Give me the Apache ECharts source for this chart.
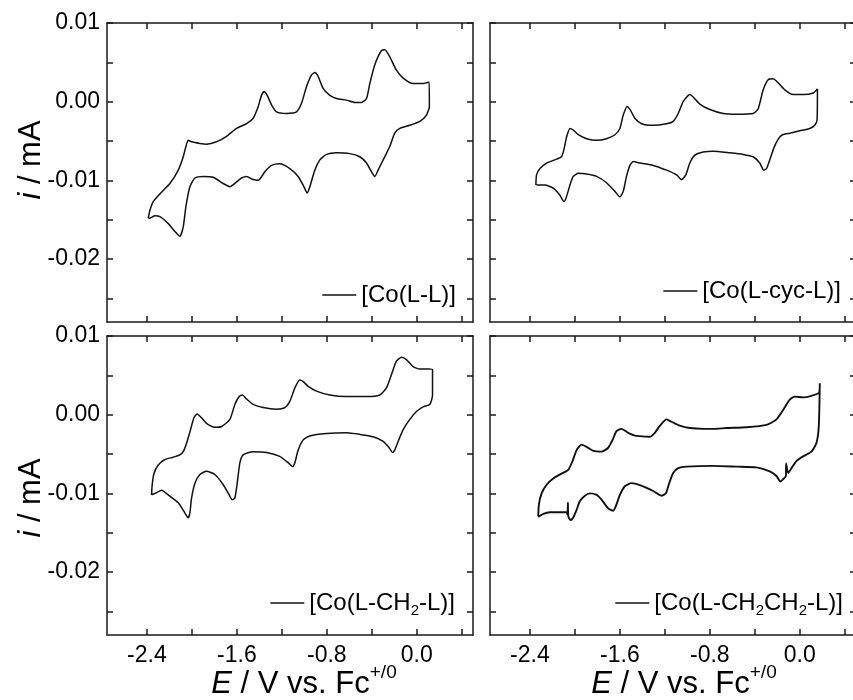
<!DOCTYPE html>
<html><head><meta charset="utf-8">
<script src="https://cdn.jsdelivr.net/npm/echarts@6/dist/echarts.min.js"></script>
<style>html,body{margin:0;padding:0;background:#fff}#c{width:853px;height:700px}</style>
</head><body><div id="c"></div>
<script>
const FONT = '"Liberation Sans", Arial, Helvetica, sans-serif';

// Series names
const names = ['[Co(L-L)]', '[Co(L-cyc-L)]', '[Co(L-CH2-L)]', '[Co(L-CH2CH2-L)]'];

// [Co(L-L)]  potential (V vs Fc+/0) and current (mA)
const E_LL = [-2.388,-2.373,-2.344,-2.284,-2.196,-2.121,-2.077,-2.053,-2.033,-2.003,-1.929,-1.870,-1.781,-1.692,-1.603,-1.514,-1.455,-1.410,-1.381,-1.357,-1.330,-1.292,-1.247,-1.159,-1.070,-1.025,-0.981,-0.936,-0.907,-0.877,-0.833,-0.773,-0.714,-0.625,-0.551,-0.492,-0.447,-0.418,-0.373,-0.314,-0.284,-0.240,-0.181,-0.121,-0.033,0.056,0.110,
  0.112,
  0.086,0.027,-0.062,-0.151,-0.196,-0.240,-0.299,-0.344,-0.373,-0.403,-0.447,-0.507,-0.596,-0.714,-0.803,-0.862,-0.907,-0.951,-0.975,-1.004,-1.055,-1.129,-1.218,-1.292,-1.351,-1.410,-1.455,-1.514,-1.559,-1.603,-1.662,-1.721,-1.810,-1.899,-1.973,-2.018,-2.053,-2.077,-2.107,-2.151,-2.210,-2.284,-2.329,-2.373,-2.388];
const I_LL = [-0.0148,-0.0138,-0.0127,-0.0117,-0.0104,-0.0087,-0.0070,-0.0057,-0.0049,-0.0051,-0.0053,-0.0054,-0.0051,-0.0044,-0.0034,-0.0028,-0.0021,-0.0006,0.0008,0.0013,0.0008,-0.0004,-0.0013,-0.0015,-0.0013,-0.0002,0.0019,0.0034,0.0037,0.0032,0.0017,0.0008,0.0004,0.0002,-0.0001,-0.0001,0.0004,0.0023,0.0047,0.0065,0.0066,0.0057,0.0040,0.0030,0.0023,0.0023,0.0025,
  -0.0006,
  -0.0017,-0.0025,-0.0030,-0.0034,-0.0040,-0.0057,-0.0074,-0.0087,-0.0095,-0.0089,-0.0078,-0.0070,-0.0066,-0.0065,-0.0067,-0.0074,-0.0087,-0.0108,-0.0116,-0.0108,-0.0095,-0.0085,-0.0079,-0.0081,-0.0089,-0.0100,-0.0099,-0.0095,-0.0097,-0.0102,-0.0108,-0.0104,-0.0096,-0.0095,-0.0097,-0.0108,-0.0133,-0.0159,-0.0171,-0.0165,-0.0155,-0.0146,-0.0145,-0.0148,-0.0148];

// [Co(L-cyc-L)]
const E_CYC = [-2.347,-2.341,-2.311,-2.252,-2.163,-2.119,-2.098,-2.074,-2.044,-2.015,-1.970,-1.896,-1.807,-1.719,-1.644,-1.600,-1.570,-1.535,-1.505,-1.467,-1.407,-1.304,-1.185,-1.126,-1.081,-1.037,-0.978,-0.948,-0.889,-0.800,-0.681,-0.563,-0.415,-0.370,-0.326,-0.281,-0.237,-0.193,-0.133,-0.059,0.030,0.119,0.157,
  0.154,
  0.133,0.089,0.000,-0.089,-0.154,-0.193,-0.231,-0.267,-0.296,-0.320,-0.356,-0.415,-0.504,-0.622,-0.770,-0.859,-0.933,-0.978,-1.013,-1.052,-1.096,-1.185,-1.304,-1.422,-1.481,-1.511,-1.541,-1.570,-1.600,-1.644,-1.719,-1.807,-1.896,-1.970,-2.015,-2.044,-2.080,-2.098,-2.133,-2.193,-2.267,-2.341];
const I_CYC = [-0.0106,-0.0093,-0.0085,-0.0078,-0.0073,-0.0070,-0.0061,-0.0045,-0.0034,-0.0036,-0.0042,-0.0047,-0.0049,-0.0047,-0.0042,-0.0034,-0.0017,-0.0006,-0.0011,-0.0021,-0.0028,-0.0030,-0.0028,-0.0025,-0.0015,0.0000,0.0009,0.0006,-0.0003,-0.0010,-0.0015,-0.0016,-0.0015,-0.0009,0.0015,0.0028,0.0029,0.0024,0.0015,0.0009,0.0009,0.0011,0.0016,
  -0.0023,
  -0.0030,-0.0034,-0.0037,-0.0040,-0.0042,-0.0048,-0.0059,-0.0074,-0.0085,-0.0087,-0.0078,-0.0070,-0.0067,-0.0065,-0.0063,-0.0064,-0.0068,-0.0078,-0.0093,-0.0099,-0.0093,-0.0087,-0.0081,-0.0078,-0.0076,-0.0081,-0.0095,-0.0114,-0.0121,-0.0114,-0.0103,-0.0095,-0.0092,-0.0091,-0.0095,-0.0106,-0.0123,-0.0127,-0.0119,-0.0110,-0.0106,-0.0106];

// [Co(L-CH2-L)]
const E_CH2 = [-2.359,-2.353,-2.338,-2.299,-2.240,-2.166,-2.107,-2.077,-2.047,-2.012,-1.982,-1.953,-1.914,-1.870,-1.796,-1.736,-1.662,-1.618,-1.579,-1.550,-1.514,-1.455,-1.366,-1.247,-1.173,-1.129,-1.084,-1.040,-1.010,-0.966,-0.892,-0.773,-0.625,-0.447,-0.329,-0.270,-0.225,-0.181,-0.136,-0.092,-0.033,0.027,0.107,0.140,
  0.140,
  0.116,0.056,-0.003,-0.062,-0.121,-0.166,-0.196,-0.216,-0.246,-0.299,-0.388,-0.507,-0.625,-0.803,-0.951,-1.010,-1.055,-1.084,-1.105,-1.144,-1.218,-1.336,-1.455,-1.544,-1.573,-1.597,-1.618,-1.641,-1.668,-1.721,-1.796,-1.870,-1.929,-1.973,-2.003,-2.018,-2.033,-2.062,-2.121,-2.210,-2.270,-2.314,-2.359];
const I_CH2 = [-0.0102,-0.0089,-0.0075,-0.0064,-0.0057,-0.0054,-0.0051,-0.0047,-0.0036,-0.0019,-0.0004,0.0001,-0.0004,-0.0011,-0.0016,-0.0015,-0.0006,0.0013,0.0023,0.0025,0.0020,0.0013,0.0009,0.0007,0.0009,0.0017,0.0034,0.0044,0.0042,0.0036,0.0030,0.0025,0.0023,0.0023,0.0025,0.0034,0.0051,0.0068,0.0073,0.0070,0.0061,0.0058,0.0058,0.0057,
  0.0025,
  0.0013,0.0010,0.0004,-0.0006,-0.0019,-0.0034,-0.0045,-0.0048,-0.0042,-0.0034,-0.0028,-0.0025,-0.0023,-0.0024,-0.0027,-0.0032,-0.0045,-0.0061,-0.0066,-0.0061,-0.0053,-0.0048,-0.0047,-0.0051,-0.0061,-0.0087,-0.0106,-0.0108,-0.0102,-0.0089,-0.0076,-0.0072,-0.0076,-0.0087,-0.0106,-0.0125,-0.0131,-0.0125,-0.0112,-0.0102,-0.0096,-0.0099,-0.0102];

// [Co(L-CH2CH2-L)]
const E_C2H4 = [-2.326,-2.320,-2.296,-2.252,-2.193,-2.119,-2.059,-2.021,-1.985,-1.941,-1.896,-1.837,-1.763,-1.704,-1.665,-1.630,-1.585,-1.526,-1.452,-1.333,-1.289,-1.244,-1.185,-1.141,-1.067,-0.978,-0.859,-0.770,-0.652,-0.474,-0.296,-0.207,-0.148,-0.089,-0.044,0.030,0.104,0.172,0.178,
  0.169,0.148,0.104,0.030,-0.030,-0.074,-0.104,-0.121,-0.124,-0.148,-0.172,-0.207,-0.267,-0.385,-0.563,-0.770,-1.007,-1.081,-1.126,-1.161,-1.191,-1.230,-1.304,-1.393,-1.496,-1.556,-1.600,-1.630,-1.659,-1.704,-1.763,-1.807,-1.867,-1.911,-1.956,-1.985,-2.015,-2.039,-2.059,-2.062,-2.066,-2.074,-2.133,-2.222,-2.281,-2.326];
const I_C2H4 = [-0.0129,-0.0114,-0.0100,-0.0089,-0.0081,-0.0075,-0.0070,-0.0059,-0.0045,-0.0038,-0.0041,-0.0046,-0.0047,-0.0042,-0.0032,-0.0021,-0.0018,-0.0023,-0.0027,-0.0028,-0.0023,-0.0014,-0.0006,-0.0009,-0.0014,-0.0017,-0.0018,-0.0018,-0.0017,-0.0016,-0.0013,-0.0006,0.0006,0.0019,0.0023,0.0022,0.0024,0.0028,0.0040,
  -0.0015,-0.0036,-0.0047,-0.0053,-0.0059,-0.0068,-0.0074,-0.0062,-0.0078,-0.0082,-0.0085,-0.0078,-0.0072,-0.0067,-0.0066,-0.0065,-0.0066,-0.0068,-0.0074,-0.0087,-0.0100,-0.0103,-0.0097,-0.0091,-0.0087,-0.0091,-0.0102,-0.0114,-0.0122,-0.0119,-0.0108,-0.0102,-0.0100,-0.0103,-0.0110,-0.0121,-0.0131,-0.0134,-0.0129,-0.0112,-0.0127,-0.0124,-0.0124,-0.0124,-0.0126,-0.0130];

const potentials = [E_LL, E_CYC, E_CH2, E_C2H4];
const currents = [I_LL, I_CYC, I_CH2, I_C2H4];

// Axis ticks and labels
const xTicks = [-2.4, -2.0, -1.6, -1.2, -0.8, -0.4, 0.0, 0.4];
const xTickLabels = [-2.4, -1.6, -0.8, 0.0];
const yTicks = [-0.025, -0.02, -0.015, -0.01, -0.005, 0, 0.005, 0.01];
const yTickLabels = [-0.02, -0.01, 0.00, 0.01];
const xRange = [-2.755, 0.5];
const yRange = [-0.028, 0.01];

const AX = '#1a1a1a';
const gridPos = [
  {left: 107, top: 23}, {left: 490, top: 23},
  {left: 107, top: 336}, {left: 490, top: 336}
];
const grid = gridPos.map(p => ({left: p.left, top: p.top, width: 366, height: 299, containLabel: false, outerBoundsMode: 'none', show: false}));

const xAxis = [], yAxis = [], series = [];
for (let g = 0; g < 4; g++) {
  ['bottom', 'top'].forEach(pos => {
    xAxis.push({
      type: 'value', gridIndex: g, position: pos, min: xRange[0], max: xRange[1],
      axisLine: {show: true, onZero: false, lineStyle: {color: AX, width: 1.5}},
      axisTick: {show: true, inside: true, length: 6, customValues: xTicks, lineStyle: {color: AX, width: 1.5}},
      minorTick: {show: false},
      axisLabel: {show: pos === 'bottom' && g >= 2, customValues: xTickLabels, formatter: v => Number(v).toFixed(1),
        margin: 9, color: '#000', fontSize: 23, fontFamily: FONT},
      splitLine: {show: false}
    });
  });
  ['left', 'right'].forEach(pos => {
    yAxis.push({
      type: 'value', gridIndex: g, position: pos, min: yRange[0], max: yRange[1],
      axisLine: {show: true, onZero: false, lineStyle: {color: AX, width: 1.5}},
      axisTick: {show: true, inside: true, length: 6, customValues: yTicks, lineStyle: {color: AX, width: 1.5}},
      minorTick: {show: false},
      axisLabel: {show: pos === 'left' && (g === 0 || g === 2), customValues: yTickLabels, formatter: v => Number(v).toFixed(2),
        margin: 7, color: '#000', fontSize: 23, fontFamily: FONT},
      splitLine: {show: false}
    });
  });
  series.push({
    type: 'line', name: names[g], xAxisIndex: 2 * g, yAxisIndex: 2 * g,
    data: potentials[g].map((e, k) => [e, currents[g][k]]),
    symbol: 'none', showSymbol: false, smooth: 0.2, clip: true,
    lineStyle: {color: '#111', width: g === 3 ? 1.9 : 1.5},
    itemStyle: {color: '#111'},
    emphasis: {disabled: true}
  });
}

const legendRight = [397, 12, 398, 10];
const legendTop = [280, 276, 588, 588];
const legend = names.map((n, g) => ({
  data: [n], right: legendRight[g], top: legendTop[g], padding: 0,
  icon: 'rect', itemWidth: 34, itemHeight: 1.5, selectedMode: false,
  itemStyle: {color: '#111', borderWidth: 0},
  formatter: name => name.replace(/2/g, '{sub|2}'),
  textStyle: {fontSize: 24, fontFamily: FONT, color: '#000', lineHeight: 30,
    rich: {sub: {fontSize: 15, fontFamily: FONT, color: '#000', verticalAlign: 'bottom', lineHeight: 15}}}
}));

function yTitle(cy) {
  return {type: 'text', x: 31, y: cy, rotation: Math.PI / 2, silent: true,
    style: {text: '{it|i}{n| / mA}', textAlign: 'center', textVerticalAlign: 'middle', fill: '#000',
      rich: {it: {fontSize: 31, fontFamily: FONT, fontStyle: 'italic', fill: '#000'},
             n: {fontSize: 31, fontFamily: FONT, fill: '#000'}}}};
}
function xTitle(cx) {
  return {type: 'text', x: cx, y: 684, silent: true,
    style: {text: '{it|E}{n| / V vs. Fc}{sup|+/0}', textAlign: 'center', textVerticalAlign: 'middle', fill: '#000',
      rich: {it: {fontSize: 31, fontFamily: FONT, fontStyle: 'italic', fill: '#000', lineHeight: 42},
             n: {fontSize: 31, fontFamily: FONT, fill: '#000', lineHeight: 42},
             sup: {fontSize: 19, fontFamily: FONT, fill: '#000', verticalAlign: 'top', lineHeight: 19}}}};
}

const chart = echarts.init(document.getElementById('c'), null, {renderer: 'canvas'});
chart.setOption({
  animation: false,
  backgroundColor: '#fff',
  grid, xAxis, yAxis, series, legend,
  graphic: [yTitle(160), yTitle(498), xTitle(304), xTitle(684)]
});
</script>
</body></html>
